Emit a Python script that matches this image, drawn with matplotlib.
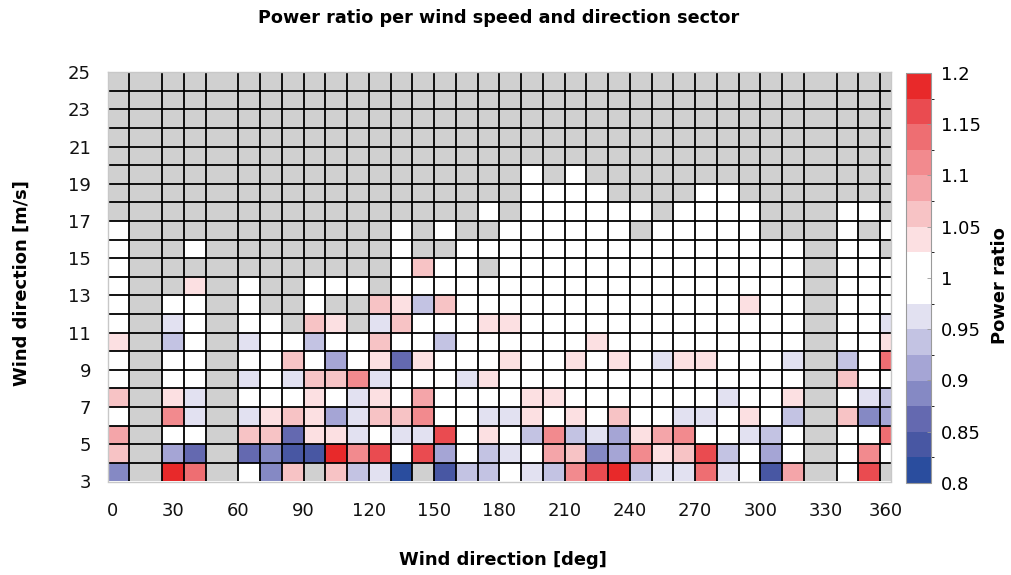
import numpy as np
import matplotlib
matplotlib.use("Agg")
import matplotlib.pyplot as plt
import matplotlib.transforms as mtransforms
from matplotlib.colors import ListedColormap, BoundaryNorm
from matplotlib.ticker import FuncFormatter

plt.rcParams['font.family'] = ['DejaVu Sans']

G = np.nan   # no data in this bin
W = 1.0

# direction-sector bin edges [deg]
dir_edges = [0, 10, 25, 35, 45, 60, 70, 80, 90, 100, 110, 120, 130, 140, 150,
             160, 170, 180, 190, 200, 210, 220, 230, 240, 250, 260, 270, 280,
             290, 300, 310, 320, 335, 345, 355, 360]
# wind-speed bin edges [m/s]
speed_edges = list(range(3, 26))

# power ratio per bin, one row per speed bin starting at 3 m/s
r03 = [0.887, G, 1.19, 1.14, G, W, 0.887, 1.06, G, 1.06, 0.937, 0.962, 0.812, G, 0.837, 0.937, 0.937, W, 0.962, 0.937, 1.11, 1.165, 1.19, 0.937, 0.962, 0.962, 1.14, 0.962, W, 0.837, 1.085, G, W, 1.165, G]
r04 = [1.06, G, 0.912, 0.862, G, 0.862, 0.887, 0.837, 0.837, 1.19, 1.11, 1.165, W, 1.165, 0.912, W, 0.937, 0.962, W, 1.085, 1.06, 0.887, 0.912, 1.11, 1.035, 1.06, 1.165, 0.937, W, 0.912, W, G, W, 1.11, W]
r05 = [1.085, G, W, W, G, 1.06, 1.06, 0.862, 1.035, 1.035, 0.962, W, 0.962, 0.962, 1.165, W, 1.035, W, 0.937, 1.11, 0.937, 0.962, 0.912, 1.035, 1.085, 1.11, W, W, 0.962, 0.937, W, G, W, W, 1.14]
r06 = [W, G, 1.11, 0.962, G, 0.962, 1.035, 1.06, 1.035, 0.912, 0.962, 1.06, 1.06, 1.11, W, W, 0.962, 0.962, 1.035, W, 1.035, W, 1.06, W, W, 0.962, 0.962, W, 1.035, W, 0.937, G, 1.06, 0.887, 0.912]
r07 = [1.06, G, 1.035, 0.962, G, W, W, W, 1.035, W, 0.962, 1.035, W, 1.085, W, W, W, W, 1.035, 1.035, W, W, W, W, W, W, W, 0.962, W, W, 1.035, G, W, 0.962, 0.937]
r08 = [W, G, W, W, G, 0.962, W, 0.962, 1.06, 1.06, 1.11, 0.962, W, W, W, 0.962, 1.035, W, W, W, W, W, W, W, W, W, W, W, W, W, W, G, 1.06, W, W]
r09 = [W, G, W, W, G, W, W, 1.06, W, 0.912, W, 1.035, 0.862, 1.035, W, W, W, 1.035, W, W, 1.035, W, 1.035, W, 0.962, 1.035, 1.035, W, W, W, 0.962, G, 0.937, W, 1.14]
r10 = [1.035, G, 0.937, W, G, 0.962, W, W, 0.937, W, W, 1.06, W, W, 0.937, W, W, W, W, W, W, 1.035, W, W, W, W, W, W, W, W, W, G, W, W, 1.035]
r11 = [W, G, 0.962, W, G, W, W, G, 1.06, 1.035, G, 0.962, 1.06, W, W, W, 1.035, 1.035, W, W, W, W, W, W, W, W, W, W, W, W, W, G, W, W, 0.962]
r12 = [W, G, W, W, G, W, G, G, W, G, G, 1.06, 1.035, 0.937, 1.06, W, W, W, W, W, W, W, W, W, W, W, W, W, 1.035, W, W, G, W, W, W]
r13 = [W, G, G, 1.035, G, W, G, G, W, W, W, G, W, W, W, W, W, W, W, W, W, W, W, W, W, W, W, W, W, W, W, G, W, W, W]
r14 = [W, G, G, G, G, G, G, G, G, G, G, G, W, 1.06, W, W, G, W, W, W, W, W, W, W, W, W, W, W, W, W, W, G, W, W, W]
r15 = [W, G, G, W, G, G, G, G, G, G, G, G, W, G, G, W, W, W, W, W, W, W, W, W, W, W, W, W, W, W, W, G, W, W, G]
r16 = [W, G, G, G, G, G, G, G, G, G, G, G, W, G, W, G, G, W, W, W, W, W, W, G, W, W, W, W, W, G, G, G, W, G, W]
r17 = [G, G, G, G, G, G, G, G, G, G, G, G, G, G, G, G, W, G, W, W, W, W, W, W, G, W, W, W, W, G, G, G, W, W, G]
r18 = [G, G, G, G, G, G, G, G, G, G, G, G, G, G, G, G, G, G, W, W, W, W, G, G, G, G, W, W, G, G, G, G, G, G, G]
r19 = [G, G, G, G, G, G, G, G, G, G, G, G, G, G, G, G, G, G, W, G, W, G, G, G, G, G, G, G, G, G, G, G, G, G, G]
r20 = [G] * 35
r21 = [G] * 35
r22 = [G] * 35
r23 = [G] * 35
r24 = [G] * 35

ratio = np.ma.masked_invalid(np.array([r03, r04, r05, r06, r07, r08, r09, r10, r11, r12, r13,
                                       r14, r15, r16, r17, r18, r19, r20, r21, r22, r23, r24]))

# banded diverging scale, 0.025 per band
band_colors = ['#2a4d9e', '#4857a3', '#6469b0', '#8589c4', '#a5a5d5', '#c3c3e3', '#e2e1f1',
               '#ffffff', '#ffffff',
               '#fce0e2', '#f7c3c5', '#f4a5a9', '#f28a8e', '#ee6e72', '#ea4b50', '#e8292a']
bounds = np.linspace(0.8, 1.2, 17)
cmap = ListedColormap(band_colors)
cmap.set_bad('#d0d0d0')
norm = BoundaryNorm(bounds, cmap.N)

W_PX, H_PX = 1011, 575
fig = plt.figure(figsize=(W_PX / 100, H_PX / 100), dpi=100)
ax = fig.add_axes([107.7 / W_PX, 1 - 481.5 / H_PX, (891 - 107.7) / W_PX, (481.5 - 72.3) / H_PX])

mesh = ax.pcolormesh(dir_edges, speed_edges, ratio, cmap=cmap, norm=norm,
                     shading='flat', edgecolors='none')
ax.vlines(dir_edges[1:-1], speed_edges[0], speed_edges[-1], colors='black', linewidth=1.3)
ax.hlines(speed_edges[1:-1], dir_edges[0], dir_edges[-1], colors='black', linewidth=1.3)
ax.set_xlim(dir_edges[0], dir_edges[-1])
ax.set_ylim(speed_edges[0], speed_edges[-1])

for sp in ax.spines.values():
    sp.set_color('#c8c8c8')
    sp.set_linewidth(1.0)

ax.set_xticks(np.arange(0, 361, 30))
ax.set_yticks(np.arange(3, 26, 2))
ax.tick_params(axis='both', length=0, labelsize=13, colors='#111111')
ax.tick_params(axis='x', pad=15)
ax.tick_params(axis='y', pad=12)

# keep the outermost direction labels inside the plot width
xt = ax.xaxis.get_major_ticks()
xt[0].label1.set_transform(xt[0].label1.get_transform()
                           + mtransforms.ScaledTranslation(5 / 100, 0, fig.dpi_scale_trans))
xt[-1].label1.set_transform(xt[-1].label1.get_transform()
                            + mtransforms.ScaledTranslation(-5 / 100, 0, fig.dpi_scale_trans))

fig.text(499 / W_PX, 1 - 18 / H_PX, 'Power ratio per wind speed and direction sector',
         ha='center', va='center', fontsize=12.7, fontweight='bold')
fig.text(503 / W_PX, 1 - 560 / H_PX, 'Wind direction [deg]',
         ha='center', va='center', fontsize=12.9, fontweight='bold')
fig.text(22 / W_PX, 1 - 283 / H_PX, 'Wind direction [m/s]', rotation=90,
         ha='center', va='center', fontsize=12.9, fontweight='bold')

cax = fig.add_axes([906 / W_PX, 1 - 483 / H_PX, 25 / W_PX, 410 / H_PX])
cb = fig.colorbar(mesh, cax=cax, ticks=np.arange(0.8, 1.2001, 0.05), spacing='proportional')
cb.formatter = FuncFormatter(lambda v, p: f'{v:g}' if abs(v - 1) > 1e-9 else '1')
cb.update_ticks()
cb.outline.set_edgecolor('#9a9a9a')
cb.outline.set_linewidth(0.8)
cax.tick_params(direction='in', length=3, width=0.6, color='#999999', labelsize=13, pad=7)
fig.text(1000 / W_PX, 1 - 286 / H_PX, 'Power ratio', rotation=90,
         ha='center', va='center', fontsize=12.9, fontweight='bold')

fig.savefig('out.png', dpi=100)
